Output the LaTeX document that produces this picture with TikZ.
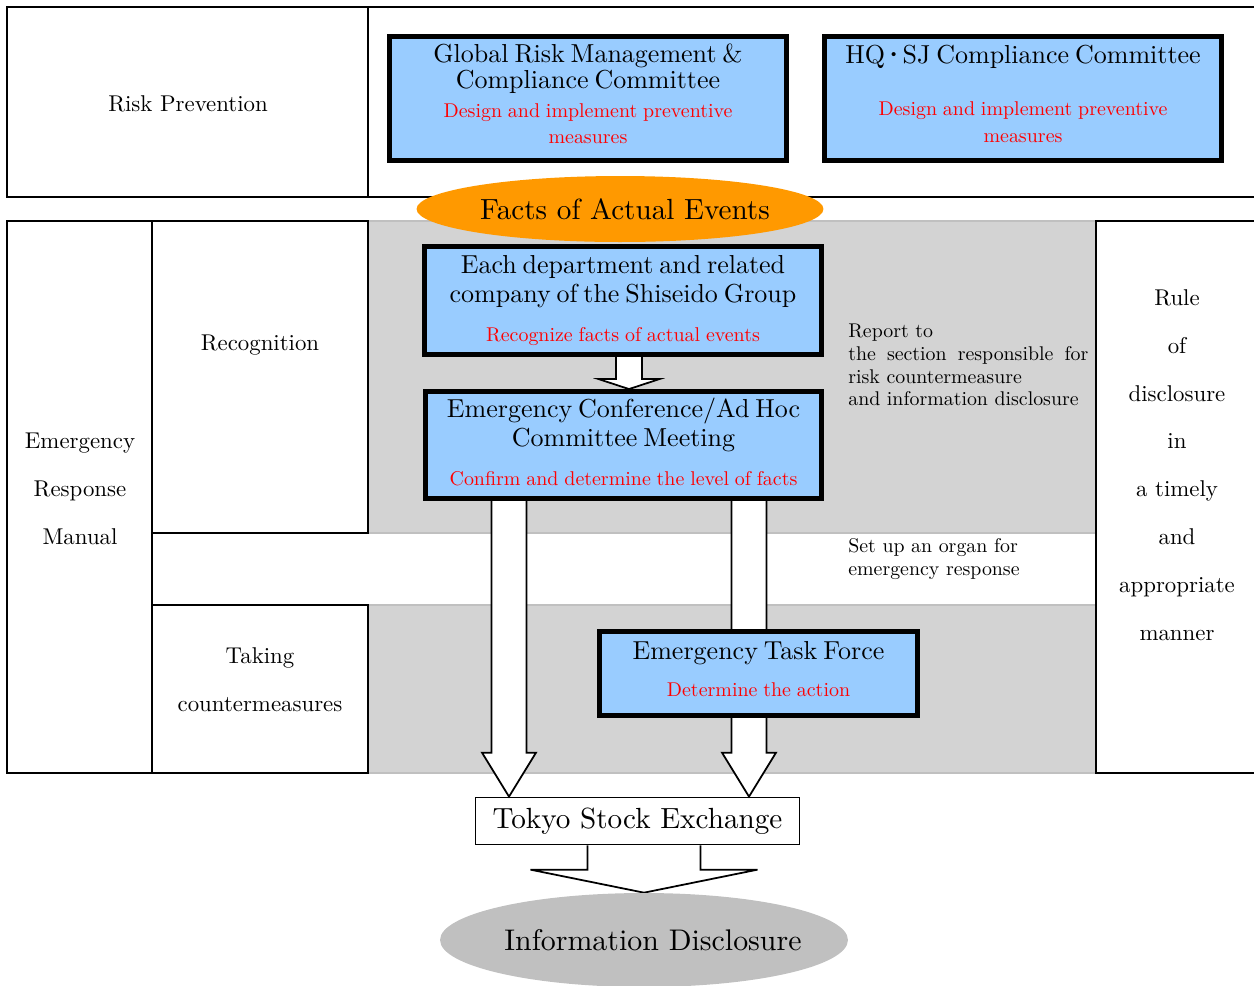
\documentclass[tikz,border=0pt]{standalone}
\usepackage{fontspec}
\setmainfont{lmroman10-regular.otf}[BoldFont=lmroman10-bold.otf,ItalicFont=lmroman10-italic.otf]
\usepackage{tikz}
\usetikzlibrary{shapes.geometric,calc}
\definecolor{boxblue}{HTML}{99CCFF}
\definecolor{factorange}{HTML}{FF9900}
\definecolor{bandgray}{HTML}{D3D3D3}
\definecolor{bandline}{HTML}{C0C0C0}
\definecolor{discgray}{HTML}{C0C0C0}
\pgfdeclarelayer{back}
\pgfdeclarelayer{mid}
\pgfsetlayers{back,mid,main}
\newcommand\fsz[2]{\fontsize{#1}{#2}\selectfont}
\newcommand\boxtitle[2][16.2]{{\fsz{14.8}{#1}#2\par}}
\newcommand\boxtask[1]{{\color{red}\fsz{11.35}{15.3}#1\par}}
\newcommand\blockarrow[5]{%
  \draw[arrowbody] ($(#1)+(-#3,0)$) -- ($(#2)+(-#3,-#5)$) -- ($(#2)+(-#4,-#5)$) -- (#2)
    -- ($(#2)+(#4,-#5)$) -- ($(#2)+(#3,-#5)$) -- ($(#1)+(#3,0)$);}

\begin{document}
\begin{tikzpicture}[x=0.02cm,y=-0.02cm,
  frame/.style={line width=1pt},
  band/.style={fill=bandgray,draw=bandline,line width=1pt},
  plain/.style={align=center,font=\fsz{13}{27.2}},
  note/.style={align=left,anchor=west,inner sep=0pt,font=\fsz{11.3}{12.9}},
  task/.style={draw,line width=2.8pt,fill=boxblue,align=center,inner sep=0pt},
  arrowbody/.style={fill=white,draw,line width=1pt,line join=miter}]
\useasboundingbox (0,0) rectangle (1254,985);

\begin{pgfonlayer}{back}
\draw[band] (368,221) rectangle (1096,533);
\draw[band] (368,605) rectangle (1096,773);
\end{pgfonlayer}

\draw[frame] (1256,7) -- (7,7) -- (7,197) -- (1256,197);
\draw[frame] (368,7) -- (368,197);
\draw[frame] (7,221) rectangle (152,773);
\draw[frame] (152,221) rectangle (368,533);
\draw[frame] (152,605) rectangle (368,773);
\draw[frame] (1256,221) -- (1096,221) -- (1096,773) -- (1256,773);

\node[plain] (prev) at (188,104) {Risk Prevention};
\node[plain] (erm) at (80,489) {Emergency\\Response\\Manual};
\node[plain] (recog) at (260,345) {Recognition};
\node[plain] (take) at (260,680) {Taking\\countermeasures};
\node[plain] (rule) at (1177,465) {Rule\\of\\disclosure\\in\\a timely\\and\\appropriate\\manner};
\node[note] (report) at (848,365) {Report to\\\makebox[4.8cm][s]{the section responsible for}\\risk countermeasure\\and information disclosure};
\node[note] (organ) at (848,559) {Set up an organ for\\emergency response};

\node[task,minimum width=7.94cm,minimum height=2.48cm,text width=7.6cm] (grm) at (588,98.5)
  {\boxtitle[14.7]{Global Risk Management \&\\Compliance Committee}\vskip 1.1pt
   \boxtask{Design and implement preventive\\measures}\kern 5.2pt};
\node[task,minimum width=7.94cm,minimum height=2.48cm,text width=7.6cm] (hq) at (1023,98.5)
  {\boxtitle[14.7]{HQ\kern-1.6pt{\bfseries\textperiodcentered}\kern-1.6pt SJ Compliance Committee}\vskip 14.8pt
   \boxtask{Design and implement preventive\\measures}\kern 5.2pt};
\node[ellipse,fill=factorange,minimum width=8.14cm,minimum height=1.32cm,inner sep=0pt,
  label={[font=\fsz{16.6}{18},xshift=0.1cm]center:Facts of Actual Events}] (facts) at (620,209) {};
\node[task,minimum width=7.94cm,minimum height=2.16cm,text width=7.6cm] (dept) at (623,300.5)
  {\boxtitle{Each department and related\\company of the Shiseido Group}\vskip 6.8pt
   \boxtask{Recognize facts of actual events}};
\node[task,minimum width=7.92cm,minimum height=2.14cm,text width=7.6cm] (conf) at (623.5,445)
  {\boxtitle{Emergency Conference/Ad Hoc\\Committee Meeting}\vskip 6.8pt
   \boxtask{Confirm and determine the level of facts}\kern 3.4pt};
\node[task,minimum width=6.36cm,minimum height=1.68cm,text width=6cm] (etf) at (758.5,673.5)
  {\boxtitle{Emergency Task Force}\vskip 5.7pt
   \boxtask{Determine the action}\kern 5pt};
\node[draw,line width=1pt,minimum width=6.48cm,minimum height=0.94cm,inner sep=0pt,
  font=\fsz{16.6}{18}] (tse) at (637.5,821) {Tokyo Stock Exchange};
\node[ellipse,fill=discgray,minimum width=8.16cm,minimum height=1.88cm,inner sep=0pt,
  label={[font=\fsz{17}{19},xshift=0.18cm]center:Information Disclosure}] (info) at (644,940) {};

\coordinate (sx) at (629,0);
\coordinate (lx) at (509,0);
\coordinate (rx) at (749,0);
\begin{pgfonlayer}{mid}
\blockarrow{sx |- dept.south}{sx |- conf.north}{13}{30.5}{10}
\blockarrow{lx |- conf.south}{lx |- tse.north}{17.5}{27}{44}
\blockarrow{rx |- conf.south}{rx |- tse.north}{17.5}{27}{44}
\blockarrow{info.north |- tse.south}{info.north}{56.5}{113.5}{23}
\end{pgfonlayer}
\end{tikzpicture}
\end{document}
